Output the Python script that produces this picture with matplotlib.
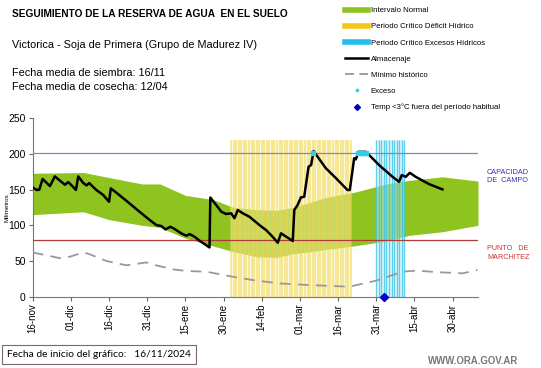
import matplotlib
matplotlib.use("Agg")
import matplotlib.pyplot as plt
from matplotlib.lines import Line2D
import numpy as np

plt.rcParams['font.family'] = ['Liberation Sans', 'DejaVu Sans']

# days counted from 16-nov
tick_days = [0, 15, 30, 45, 60, 75, 90, 105, 120, 135, 150, 165]
tick_labels = ['16-nov', '01-dic', '16-dic', '31-dic', '15-ene', '30-ene',
               '14-feb', '01-mar', '16-mar', '31-mar', '15-abr', '30-abr']

# normal interval (green band)
band_days = [0, 20, 30, 43, 50, 60, 71, 79, 88, 96, 102, 109, 115, 126, 139, 148, 161, 175]
band_low = [115, 119, 108, 100, 97, 82, 71, 63, 56, 55, 60, 63, 66, 71, 78, 86, 91, 100]
band_high = [173, 174, 167, 158, 158, 142, 136, 125, 122, 121, 125, 132, 139, 146, 158, 163, 168, 162]

# storage (almacenaje)
alm_days = [0, 1.6, 2.6, 3.9, 6.8, 8.7, 10.7, 12.7, 14, 15.3, 17, 17.9, 19.9, 21.2, 22.2,
            25, 27.7, 30, 30.7, 32.9, 36.8, 42, 46, 48.6, 50.6, 52.2, 54.1, 55.8, 58.4,
            60.4, 61.7, 63.6, 65.6, 69.5, 69.8, 72.1, 74.1, 76, 78, 79.3, 80.6, 82.6,
            85.2, 89.1, 91.7, 94.3, 96.3, 97.6, 102.2, 102.8, 104.1, 105.4, 106.7, 108.4,
            109.4, 110.4, 112, 115.2, 119.2, 123.7, 124.6, 125.7, 126.3, 127, 128, 130.9,
            132.2, 136.1, 141.4, 144, 145, 146.6, 148.2, 150.5, 155.7, 161]
alm_vals = [153, 149.5, 150, 165, 155, 168.6, 162.6, 156.9, 160.6, 156, 149.6, 168.6, 159.2,
            156, 159.2, 149.6, 142.6, 133, 151.8, 145.7, 134.5, 119, 107.4, 100.4, 99, 94.3,
            98, 94.8, 88.7, 85.4, 87.8, 84, 78.4, 69, 139, 128.5, 119.2, 115.9, 116.8, 110,
            121.5, 116.8, 112, 100.4, 93.4, 84, 75.6, 88.8, 78, 121.5, 128.5, 139.2, 140,
            182, 184.5, 204, 196, 180, 166, 149.5, 149.5, 177.5, 194, 192.5, 203, 203,
            198.6, 184.5, 168, 161, 170.4, 168, 173.6, 168, 157.9, 150.4]

# historical minimum
min_days = [0, 10.7, 14.6, 19.9, 22, 29, 36.8, 44.7, 48, 55.1, 60.4, 68.2, 78.6, 86.5,
            96.9, 108.7, 124.4, 134.9, 145.3, 150.6, 161, 168.9, 174.8]
min_vals = [62, 54, 56, 62, 60, 50, 44, 48, 44.4, 38.3, 36, 35, 28, 23.3, 18.6, 16.3, 14,
            22.4, 35, 36.5, 34, 32.7, 37.4]

exceso_days = [110, 128, 129, 130, 131]
exceso_vals = [202, 202, 202, 202, 202]
temp_days = [138]
temp_vals = [0]

deficit_days = np.arange(78, 126)
excess_days = np.arange(135, 147)
capacidad = 202
marchitez = 80

fig = plt.figure(figsize=(5.41, 3.68), dpi=100)
ax = fig.add_axes([0.0604, 0.1938, 0.8232, 0.4847])

ax.fill_between(band_days, band_low, band_high, color='#8fc31f', lw=0, zorder=1)

ax.axvspan(deficit_days[0], deficit_days[-1], ymax=220 / 250, color='#fbf2b8', alpha=0.45, lw=0, zorder=2)
ax.vlines(deficit_days, 0, 220, color='#f0d64e', lw=1.1, alpha=0.65, zorder=2)
ax.axvspan(excess_days[0], excess_days[-1], ymax=220 / 250, color='#c8eef8', alpha=0.45, lw=0, zorder=2)
ax.vlines(excess_days, 0, 220, color='#3cc4e8', lw=1.0, alpha=0.8, zorder=2)

ax.axhline(capacidad, color='#6f8fc0', lw=0.9, zorder=3)
ax.axhline(marchitez, color='#b03a3a', lw=0.9, zorder=3)

ax.plot(min_days, min_vals, color='#999999', lw=1.3, dashes=(6, 4), zorder=4)
ax.plot(alm_days, alm_vals, color='black', lw=1.8, zorder=5)
ax.plot(exceso_days, exceso_vals, color='#33ccee', lw=0, marker='s', ms=3, zorder=6)
ax.plot(temp_days, temp_vals, color='#0000cc', lw=0, marker='D', ms=4.5, zorder=7, clip_on=False)

ax.set_xlim(0, 175)
ax.set_ylim(0, 250)
ax.set_yticks([0, 50, 100, 150, 200, 250])
ax.set_xticks(tick_days)
ax.set_xticklabels(tick_labels, rotation=90, fontsize=7)
ax.tick_params(axis='y', labelsize=7.5, length=3, color='#666666', pad=2)
ax.tick_params(axis='x', length=3, color='#666666', pad=2)
for s in ['top', 'right']:
    ax.spines[s].set_visible(False)
for s in ['left', 'bottom']:
    ax.spines[s].set_color('#777777')
ax.set_ylabel('Milímetros', fontsize=4.5, labelpad=-6)
ax.yaxis.set_label_coords(-0.052, 0.5)

fig.text(0.022, 0.962, 'SEGUIMIENTO DE LA RESERVA DE AGUA  EN EL SUELO', fontsize=7.3,
         fontweight='bold', va='center')
fig.text(0.022, 0.878, 'Victorica - Soja de Primera (Grupo de Madurez IV)', fontsize=7.8, va='center')
fig.text(0.022, 0.802, 'Fecha media de siembra: 16/11', fontsize=7.8, va='center')
fig.text(0.022, 0.764, 'Fecha media de cosecha: 12/04', fontsize=7.8, va='center')

fig.text(0.9, 0.52, 'CAPACIDAD\nDE  CAMPO', fontsize=5.2, color='#3333bb', va='center',
         linespacing=1.3)
fig.text(0.9, 0.312, 'PUNTO   DE\nMARCHITEZ', fontsize=5.2, color='#cc3333', va='center',
         linespacing=1.3)

handles = [
    Line2D([], [], color='#8fc31f', lw=4),
    Line2D([], [], color='#f5c518', lw=4),
    Line2D([], [], color='#22bde8', lw=4),
    Line2D([], [], color='black', lw=1.8),
    Line2D([], [], color='#999999', lw=1.3, dashes=(5, 3)),
    Line2D([], [], color='#33ccee', lw=0, marker='s', ms=2),
    Line2D([], [], color='#0000cc', lw=0, marker='D', ms=3),
]
labels = ['Intervalo Normal', 'Periodo Crítico Déficit Hídrico', 'Periodo Crítico Excesos Hídricos',
          'Almacenaje', 'Mínimo histórico', 'Exceso', 'Temp <3°C fuera del período habitual']
fig.legend(handles, labels, loc='upper left', bbox_to_anchor=(0.632, 0.99), frameon=False,
           fontsize=5.6, handlelength=3.0, handletextpad=0.3, labelspacing=1.12,
           borderaxespad=0)

fig.text(0.013, 0.036, 'Fecha de inicio del gráfico:   16/11/2024', fontsize=7.4, family='Lato',
         va='center', bbox=dict(boxstyle='square,pad=0.5', fc='white', ec='#7a6a6a', lw=0.8))
fig.text(0.958, 0.02, 'WWW.ORA.GOV.AR', fontsize=6.9, color='#777777', ha='right', va='center',
         fontweight='bold')

fig.savefig('out.png', dpi=100)
